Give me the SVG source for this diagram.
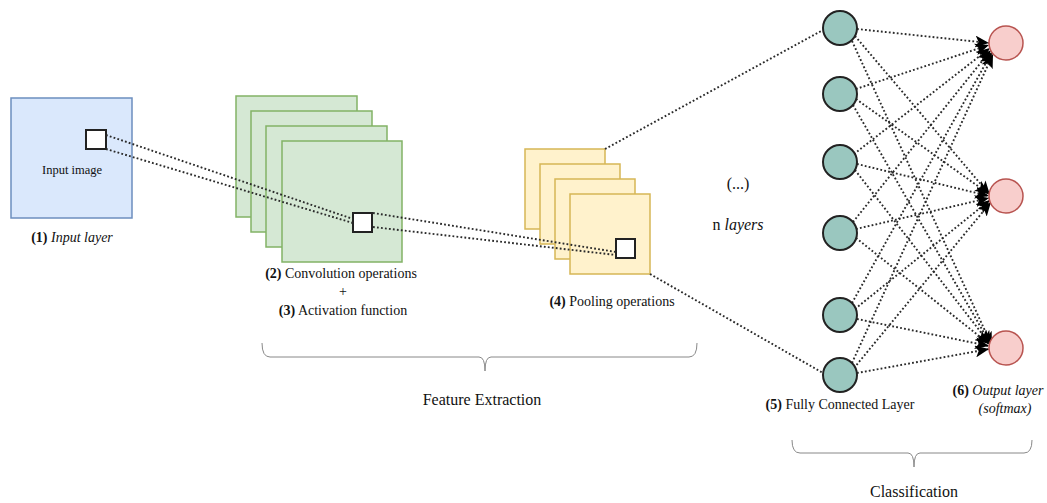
<svg xmlns="http://www.w3.org/2000/svg" width="1047" height="503" viewBox="0 0 1047 503">
<style>
text{font-family:"Liberation Serif","Times New Roman",serif;fill:#111;font-size:14px;text-anchor:middle}
.b{font-weight:bold}.i{font-style:italic}
.dot{fill:none;stroke:#2a2a2a;stroke-width:1.9;stroke-dasharray:1.8 2.2}
.blue{fill:#DAE8FC;stroke:#6C8EBF;stroke-width:1.5}
.green{fill:#D5E8D4;stroke:#82B366;stroke-width:1.5}
.yel{fill:#FFF2CC;stroke:#D6B656;stroke-width:1.5}
.sq{fill:#fff;stroke:#222;stroke-width:2}
.fc{fill:#9AC7BF;stroke:#222;stroke-width:2}
.out{fill:#F8CECC;stroke:#B85450;stroke-width:1.5}
.brace{fill:none;stroke:#888;stroke-width:1}
</style>
<defs>
<marker id="ar" markerUnits="userSpaceOnUse" markerWidth="15" markerHeight="12" refX="14" refY="6" orient="auto">
<path d="M0,0 L14,6 L0,12 L3.5,6 z" fill="#000"/>
</marker>
</defs>
<g id="input-layer">
<rect class="blue" x="11" y="98" width="121" height="120"/>
<rect class="sq" x="86" y="130" width="20" height="19"/>
<text x="72" y="174" style="font-size:12.5px">Input image</text>
<text x="72" y="242"><tspan class="b">(1)</tspan> <tspan class="i">Input layer</tspan></text>
</g>
<g id="convolution">
<rect class="green" x="236" y="96" width="121" height="121"/>
<rect class="green" x="251" y="111" width="121" height="121"/>
<rect class="green" x="266" y="126" width="121" height="121"/>
<rect class="green" x="282" y="141" width="120" height="121"/>
<rect class="sq" x="353" y="213" width="19" height="19"/>
<text x="341" y="278"><tspan class="b">(2)</tspan> Convolution operations</text>
<text x="343" y="296">+</text>
<text x="343" y="315"><tspan class="b">(3)</tspan> Activation function</text>
</g>
<g id="pooling">
<rect class="yel" x="525" y="149" width="80" height="80"/>
<rect class="yel" x="540" y="164" width="80" height="80"/>
<rect class="yel" x="555" y="179" width="80" height="80"/>
<rect class="yel" x="570" y="194" width="80" height="80"/>
<rect class="sq" x="616" y="239" width="19" height="19"/>
<text x="612" y="306"><tspan class="b">(4)</tspan> Pooling operations</text>
</g>
<g id="n-layers">
<text x="738" y="189" style="font-size:16px">(...)</text>
<text x="738" y="230" style="font-size:16px">n <tspan class="i">layers</tspan></text>
</g>
<g id="connectors">
<line class="dot" x1="106" y1="135" x2="353" y2="219"/>
<line class="dot" x1="106" y1="149" x2="353" y2="223"/>
<line class="dot" x1="373" y1="213" x2="616" y2="252"/>
<line class="dot" x1="373" y1="227" x2="616" y2="255"/>
<line class="dot" x1="605" y1="149" x2="823" y2="30"/>
<line class="dot" x1="650" y1="274" x2="823" y2="373"/>
<g marker-end="url(#ar)">
<line class="dot" x1="857" y1="29" x2="989" y2="43"/>
<line class="dot" x1="855" y1="36" x2="990" y2="195"/>
<line class="dot" x1="852" y1="41" x2="992" y2="346"/>
<line class="dot" x1="856" y1="89" x2="989" y2="45"/>
<line class="dot" x1="856" y1="99" x2="989" y2="194"/>
<line class="dot" x1="853" y1="105" x2="991" y2="345"/>
<line class="dot" x1="854" y1="154" x2="990" y2="48"/>
<line class="dot" x1="857" y1="164" x2="989" y2="196"/>
<line class="dot" x1="855" y1="170" x2="990" y2="344"/>
<line class="dot" x1="853" y1="222" x2="991" y2="50"/>
<line class="dot" x1="856" y1="229" x2="989" y2="198"/>
<line class="dot" x1="856" y1="238" x2="989" y2="344"/>
<line class="dot" x1="852" y1="303" x2="992" y2="52"/>
<line class="dot" x1="855" y1="309" x2="990" y2="200"/>
<line class="dot" x1="857" y1="319" x2="989" y2="346"/>
<line class="dot" x1="852" y1="363" x2="993" y2="54"/>
<line class="dot" x1="854" y1="368" x2="991" y2="202"/>
<line class="dot" x1="857" y1="373" x2="989" y2="349"/>
</g>
</g>
<g id="fully-connected">
<circle class="fc" cx="840" cy="28" r="17"/>
<circle class="fc" cx="840" cy="94" r="17"/>
<circle class="fc" cx="840" cy="162" r="17"/>
<circle class="fc" cx="840" cy="233" r="17"/>
<circle class="fc" cx="840" cy="315" r="17"/>
<circle class="fc" cx="840" cy="375" r="17"/>
<text x="840" y="409"><tspan class="b">(5)</tspan> Fully Connected Layer</text>
</g>
<g id="output-layer">
<circle class="out" cx="1006" cy="43" r="17"/>
<circle class="out" cx="1006" cy="196" r="17"/>
<circle class="out" cx="1006" cy="348" r="17"/>
<text x="998" y="395"><tspan class="b">(6)</tspan> <tspan class="i">Output layer</tspan></text>
<text x="1005" y="413" class="i">(softmax)</text>
</g>
<g id="feature-extraction">
<path class="brace" d="M262,343 Q262,357 270,357 L479,357 Q485,357 485,371 Q485,357 491,357 L689,357 Q697,357 697,343"/>
<text x="482" y="405" style="font-size:16px">Feature Extraction</text>
</g>
<g id="classification">
<path class="brace" d="M792,440 Q792,453 800,453 L908,453 Q914,453 914,467 Q914,453 920,453 L1024,453 Q1032,453 1032,440"/>
<text x="914" y="497" style="font-size:16px">Classification</text>
</g>
</svg>
